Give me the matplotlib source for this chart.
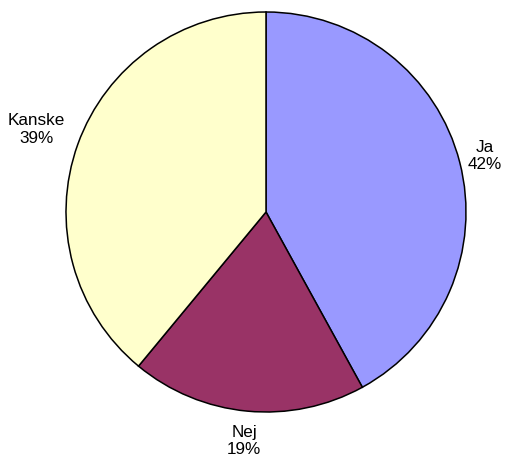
import numpy as np
import matplotlib.pyplot as plt

plt.rcParams["font.family"] = ["Liberation Sans", "DejaVu Sans"]

# svarsfördelning
labels = ["Ja", "Nej", "Kanske"]
shares = [42, 19, 39]
colors = ["#9999FF", "#993366", "#FFFFCC"]
label_dist = [1.127, 1.15, 1.22]

fig = plt.figure(figsize=(5.06, 4.61), dpi=100)
ax = fig.add_axes([66 / 506, 49 / 461, 400 / 506, 400 / 461])

wedges, _ = ax.pie(
    shares,
    colors=colors,
    startangle=90,
    counterclock=False,
    radius=1.0,
    wedgeprops=dict(edgecolor="black", linewidth=1.1),
)

for w, lab, val, d in zip(wedges, labels, shares, label_dist):
    mid = np.deg2rad((w.theta1 + w.theta2) / 2)
    ax.text(d * np.cos(mid), d * np.sin(mid), f"{lab}\n{val}%",
            ha="center", va="center", fontsize=12.3, color="black")

ax.set_xlim(-1, 1)
ax.set_ylim(-1, 1)
ax.set_aspect("equal")
ax.axis("off")

fig.savefig("out.png", dpi=100)
